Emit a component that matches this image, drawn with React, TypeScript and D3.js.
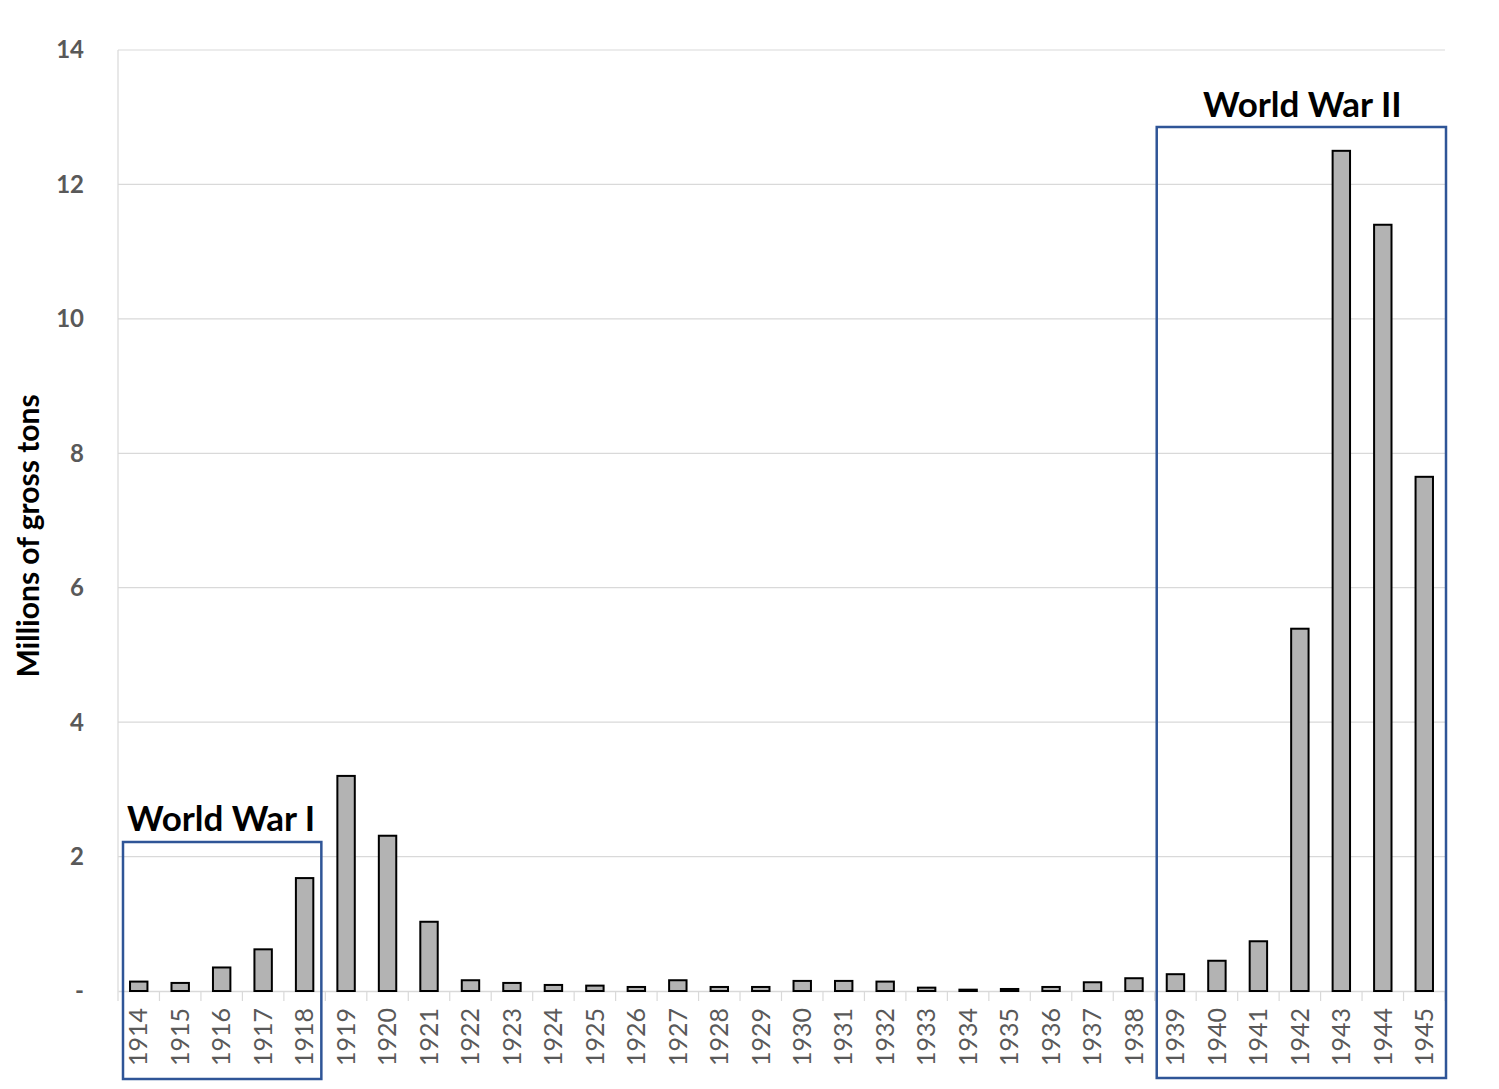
import { useEffect, useRef } from 'react';
import * as d3 from 'd3';

const years = [
  '1914', '1915', '1916', '1917', '1918', '1919', '1920', '1921', '1922', '1923',
  '1924', '1925', '1926', '1927', '1928', '1929', '1930', '1931', '1932', '1933',
  '1934', '1935', '1936', '1937', '1938', '1939', '1940', '1941', '1942', '1943',
  '1944', '1945',
];
const tonnage = [
  0.14, 0.12, 0.35, 0.62, 1.68, 3.2, 2.31, 1.03, 0.16, 0.12,
  0.09, 0.08, 0.06, 0.16, 0.06, 0.06, 0.15, 0.15, 0.14, 0.05,
  0.02, 0.03, 0.06, 0.13, 0.19, 0.25, 0.45, 0.74, 5.39, 12.5,
  11.4, 7.65,
];
const yTicks = [0, 2, 4, 6, 8, 10, 12, 14];
const wars = [
  { label: 'World War I', from: '1914', to: '1918' },
  { label: 'World War II', from: '1939', to: '1945' },
];

const App = () => {
  const ref = useRef(null);
  const width = 1499;
  const height = 1089;
  const marginTop = 50;
  const marginRight = 54;
  const marginBottom = 98;
  const marginLeft = 118;
  const font = 'Lato, "Open Sans", sans-serif';

  useEffect(() => {
    const svg = d3.select(ref.current);
    svg.selectAll('*').remove();

    const x = d3.scaleBand()
      .domain(years)
      .range([marginLeft, width - marginRight])
      .padding(0);

    const y = d3.scaleLinear()
      .domain([0, 14])
      .range([height - marginBottom, marginTop]);

    // gridlines
    svg.append('g')
      .selectAll('line')
      .data(yTicks.filter(d => d > 0))
      .join('line')
      .attr('x1', marginLeft)
      .attr('x2', width - marginRight)
      .attr('y1', d => y(d))
      .attr('y2', d => y(d))
      .attr('stroke', '#d9d9d9')
      .attr('stroke-width', 1.2);

    // left axis line
    svg.append('line')
      .attr('x1', marginLeft).attr('x2', marginLeft)
      .attr('y1', y(14)).attr('y2', y(0))
      .attr('stroke', '#d9d9d9').attr('stroke-width', 1.2);

    // y tick labels
    svg.append('g')
      .selectAll('text')
      .data(yTicks)
      .join('text')
      .attr('x', 84)
      .attr('y', d => y(d))
      .attr('dy', '0.35em')
      .attr('text-anchor', 'end')
      .attr('font-family', font)
      .attr('font-weight', 'bold')
      .attr('font-size', 24)
      .attr('fill', '#595959')
      .text(d => (d === 0 ? '-' : d));

    // bottom axis
    const xAxis = svg.append('g')
      .attr('transform', `translate(0,${y(0)})`)
      .call(d3.axisBottom(x).tickSize(0).tickFormat(() => ''));
    xAxis.select('.domain').attr('stroke', '#d9d9d9').attr('stroke-width', 1.5);
    xAxis.selectAll('.tick').remove();

    // category separators
    svg.append('g')
      .selectAll('line')
      .data(years.concat(['end']))
      .join('line')
      .attr('x1', (d, i) => marginLeft + i * x.bandwidth())
      .attr('x2', (d, i) => marginLeft + i * x.bandwidth())
      .attr('y1', y(0))
      .attr('y2', y(0) + 10)
      .attr('stroke', '#d9d9d9')
      .attr('stroke-width', 1.2);

    // year labels
    svg.append('g')
      .selectAll('text')
      .data(years)
      .join('text')
      .attr('transform', d => `translate(${x(d) + x.bandwidth() / 2},${y(0) + 75}) rotate(-90)`)
      .attr('dy', '0.35em')
      .attr('text-anchor', 'start')
      .attr('font-family', font)
      .attr('font-size', 25)
      .attr('fill', '#595959')
      .text(d => d);

    // bars
    const barW = x.bandwidth() * 0.42;
    svg.append('g')
      .selectAll('rect')
      .data(years)
      .join('rect')
      .attr('x', d => x(d) + (x.bandwidth() - barW) / 2)
      .attr('y', (d, i) => y(tonnage[i]))
      .attr('width', barW)
      .attr('height', (d, i) => y(0) - y(tonnage[i]))
      .attr('fill', '#b3b3b3')
      .attr('stroke', '#000')
      .attr('stroke-width', 2);

    // war boxes
    const boxes = [
      { top: 842, bottom: 1079, left: x('1914') + 5, right: x('1918') + x.bandwidth() - 4, ty: 831, anchor: 'start' },
      { top: 127, bottom: 1078, left: x('1939') + 2, right: x('1945') + x.bandwidth() + 1, ty: 117, anchor: 'middle' },
    ];
    wars.forEach((w, i) => {
      const b = boxes[i];
      svg.append('rect')
        .attr('x', b.left)
        .attr('y', b.top)
        .attr('width', b.right - b.left)
        .attr('height', b.bottom - b.top)
        .attr('fill', 'none')
        .attr('stroke', '#2f5597')
        .attr('stroke-width', 2.5);
      svg.append('text')
        .attr('x', b.anchor === 'start' ? b.left + 4 : (b.left + b.right) / 2 + 1)
        .attr('y', b.ty)
        .attr('text-anchor', b.anchor)
        .attr('font-family', font)
        .attr('font-weight', 'bold')
        .attr('font-size', 35)
        .attr('fill', '#000')
        .text(w.label);
    });

    // y axis title
    svg.append('text')
      .attr('transform', `translate(28,${536}) rotate(-90)`)
      .attr('dy', '0.35em')
      .attr('text-anchor', 'middle')
      .attr('font-family', font)
      .attr('font-weight', 'bold')
      .attr('font-size', 30)
      .attr('fill', '#000')
      .text('Millions of gross tons');
  }, []);

  return (
    <svg
      ref={ref}
      width={width}
      height={height}
      viewBox={`0 0 ${width} ${height}`}
      style={{ position: 'absolute', left: 0, top: 0, background: '#fff' }}
    />
  );
};

export default App;
